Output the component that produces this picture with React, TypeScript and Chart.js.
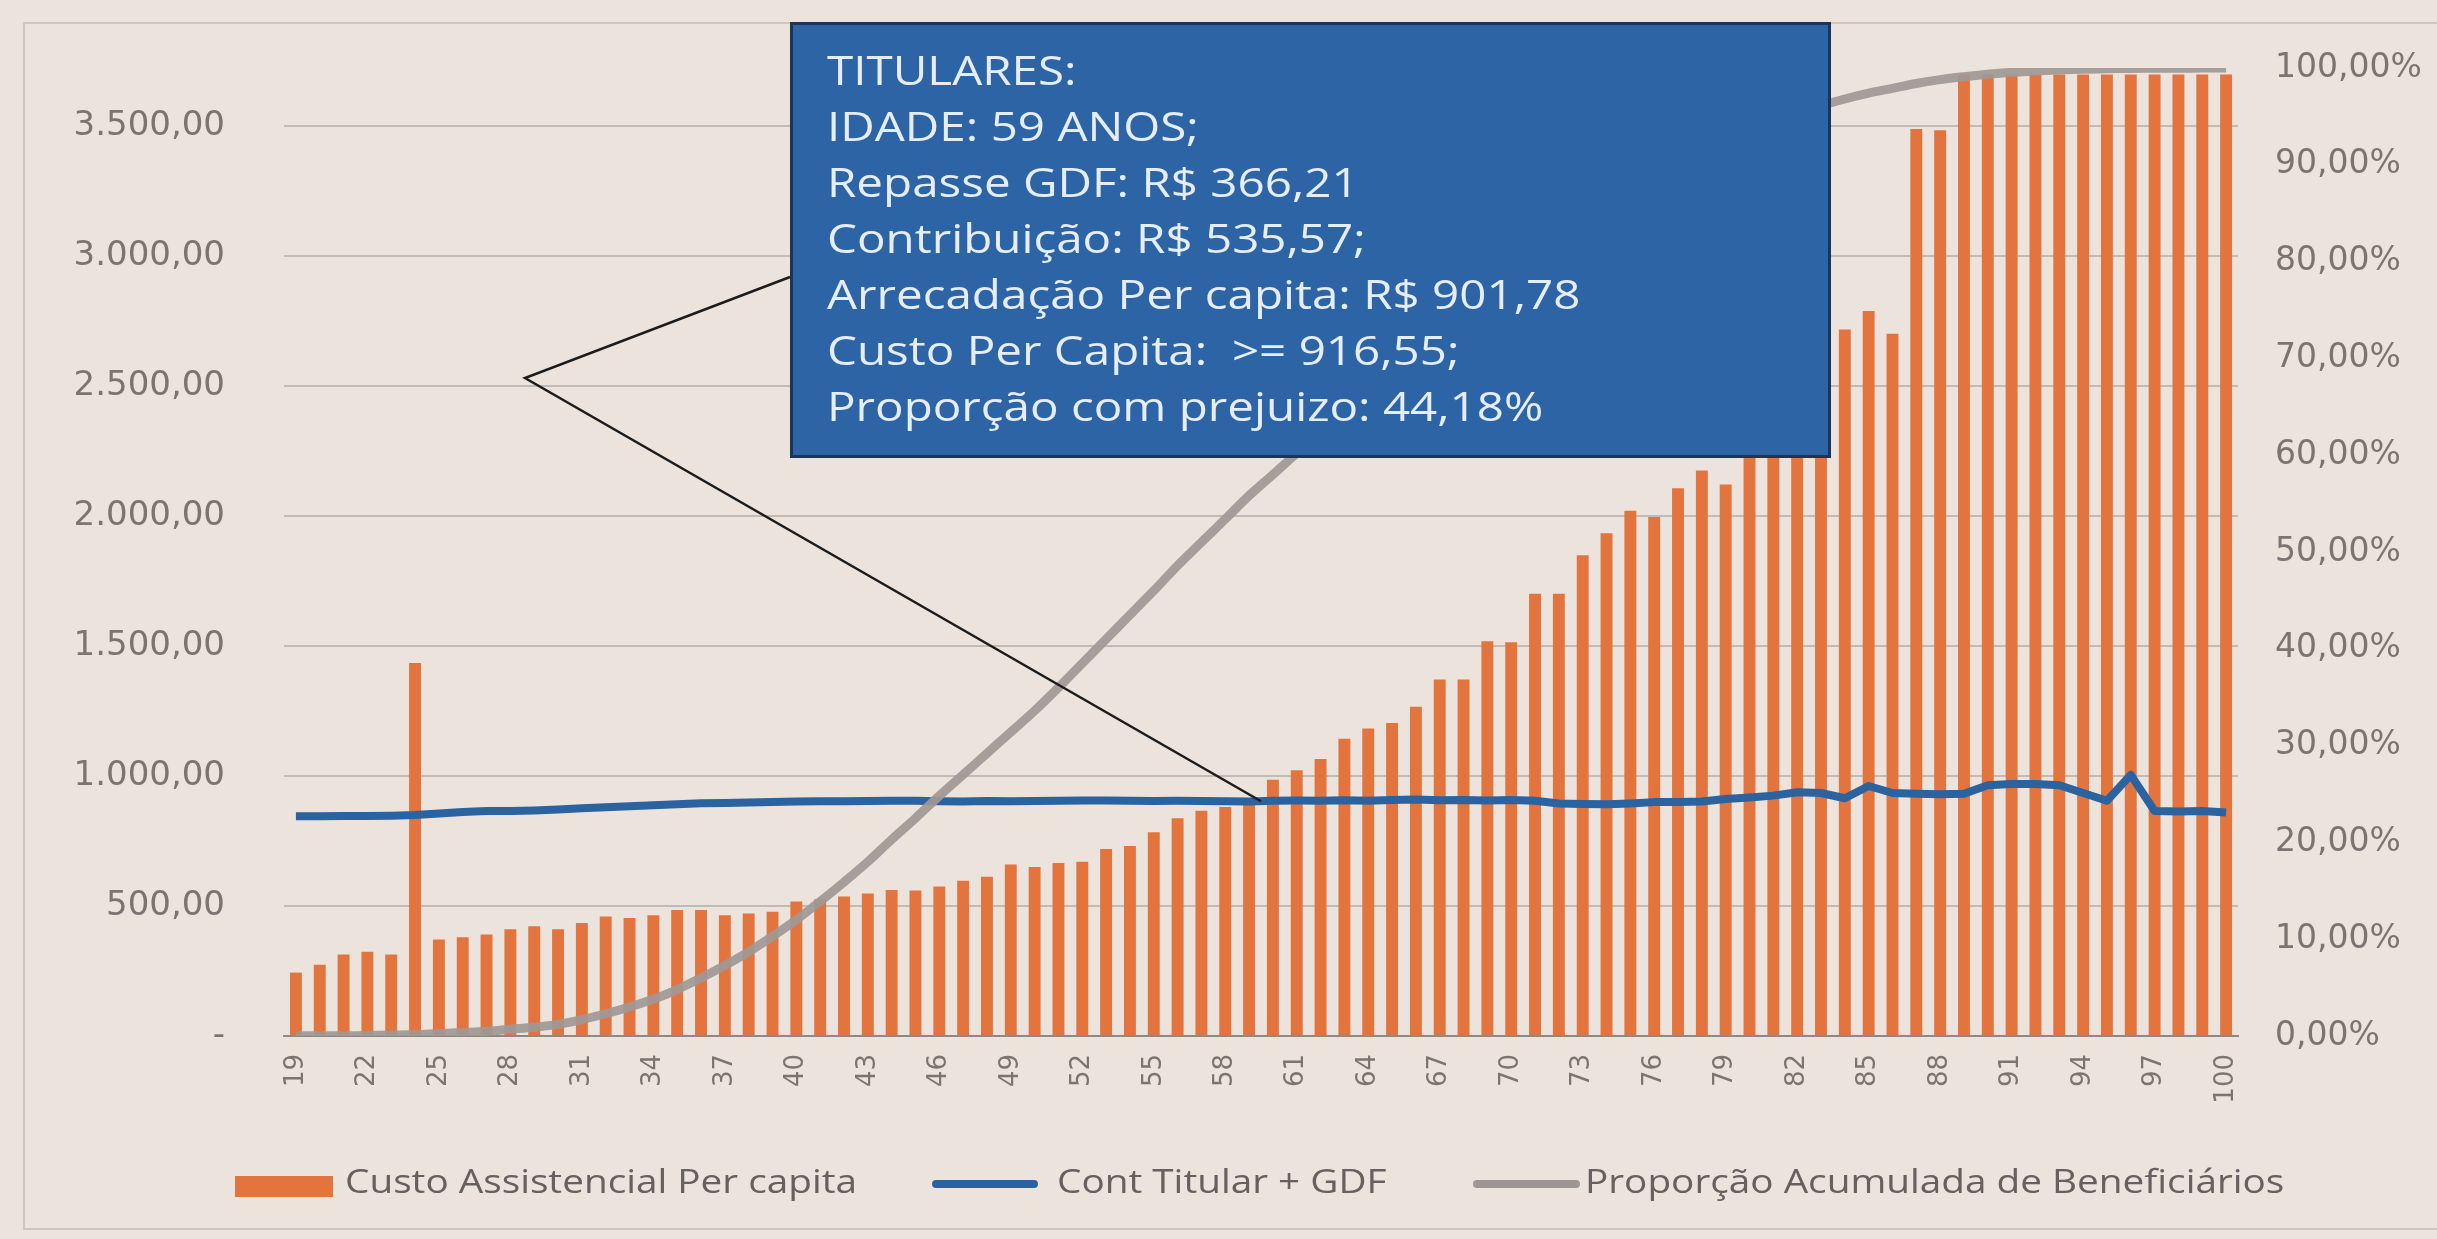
import React, { useEffect, useRef } from "react";
import { Chart, registerables } from "chart.js";

Chart.register(...registerables);

// Categories: age of beneficiaries
const ages: string[] = [
  "19", "20", "21", "22", "23", "24", "25", "26", "27", "28",
  "29", "30", "31", "32", "33", "34", "35", "36", "37", "38",
  "39", "40", "41", "42", "43", "44", "45", "46", "47", "48",
  "49", "50", "51", "52", "53", "54", "55", "56", "57", "58",
  "59", "60", "61", "62", "63", "64", "65", "66", "67", "68",
  "69", "70", "71", "72", "73", "74", "75", "76", "77", "78",
  "79", "80", "81", "82", "83", "84", "85", "86", "87", "88",
  "89", "90", "91", "92", "93", "94", "95", "96", "97", "98",
  "99", "100",
];

// Custo Assistencial Per capita (R$)
const costValues: number[] = [
  244, 274, 314, 324, 314, 1435, 371, 380, 391, 411,
  422, 411, 435, 460, 454, 465, 485, 485, 465, 471,
  478, 518, 526, 537, 548, 562, 560, 575, 597, 613,
  660, 650, 666, 671, 720, 731, 784, 838, 867, 881,
  916, 986, 1023, 1066, 1144, 1183, 1204, 1267, 1372, 1372,
  1519, 1515, 1702, 1702, 1850, 1935, 2021, 1997, 2108, 2176,
  2122, 2290, 2370, 2480, 2620, 2719, 2790, 2702, 3490, 3485,
  3700, 3700, 3700, 3700, 3700, 3700, 3700, 3700, 3700, 3700,
  3700, 3700,
];

// Cont Titular + GDF (R$)
const contValues: number[] = [
  846, 846, 847, 847, 848, 850, 856, 862, 866, 866,
  868, 872, 876, 880, 884, 888, 892, 896, 897, 899,
  900, 902, 903, 903, 904, 905, 905, 903, 902, 904,
  903, 904, 905, 906, 906, 905, 904, 905, 904, 903,
  902, 905, 906, 905, 907, 905, 908, 910, 907, 908,
  906, 908, 905, 895, 893, 892, 895, 900, 900, 902,
  912, 918, 925, 938, 935, 915, 962, 935, 932, 930,
  932, 965, 970, 970, 965, 935, 905, 1005, 866, 864,
  866, 860,
];

// Proporção Acumulada de Beneficiários (%)
const propValues: number[] = [
  0.01, 0.02, 0.03, 0.05, 0.1, 0.15, 0.25, 0.35, 0.5, 0.7,
  0.9, 1.2, 1.7, 2.3, 3.0, 3.8, 4.8, 6.0, 7.3, 8.7,
  10.3, 12.0, 13.9, 15.9, 18.0, 20.3, 22.5, 24.8, 27.0, 29.2,
  31.4, 33.6, 36.0, 38.5, 41.0, 43.5, 46.0, 48.6, 51.0, 53.4,
  55.82, 58.0, 60.2, 62.4, 64.6, 66.8, 69.0, 71.1, 73.2, 75.2,
  77.2, 79.1, 81.0, 82.8, 84.5, 86.1, 87.6, 89.0, 90.3, 91.5,
  92.6, 93.6, 94.5, 95.3, 96.1, 96.8, 97.4, 97.9, 98.4, 98.8,
  99.1, 99.35, 99.55, 99.7, 99.8, 99.87, 99.92, 99.95, 99.97, 99.98,
  99.99, 100,
];

const leftTicks: number[] = [0, 500, 1000, 1500, 2000, 2500, 3000, 3500];
const leftMax = 3725;

const calloutLines: string[] = [
  "TITULARES:",
  "IDADE: 59 ANOS;",
  "Repasse GDF: R$ 366,21",
  "Contribuição: R$ 535,57;",
  "Arrecadação Per capita: R$ 901,78",
  "Custo Per Capita:  >= 916,55;",
  "Proporção com prejuizo: 44,18%",
];
const calloutAge = "59";

const legendLabels: string[] = [
  "Custo Assistencial Per capita",
  "Cont Titular + GDF",
  "Proporção Acumulada de Beneficiários",
];

const BG = "#ece3dc";
const ORANGE = "#e3743e";
const BLUE = "#2b62a0";
const GRAY = "rgba(158,152,149,0.92)";
const TEXT = "#7b7471";

function fmtBR(v: number): string {
  if (v === 0) return "-";
  const fixed = v.toFixed(2);
  const [int, dec] = fixed.split(".");
  const withDots = int.replace(/\B(?=(\d{3})+(?!\d))/g, ".");
  return withDots + "," + dec;
}

const BOX = { left: 790, top: 22, width: 1041, height: 436 };

const calloutPlugin = {
  id: "calloutLines",
  afterDatasetsDraw(chart: any) {
    const { ctx, scales } = chart;
    const x = scales.x;
    const y = scales.y;
    const i = ages.indexOf(calloutAge);
    const tx = (x.getPixelForValue(i) + x.getPixelForValue(i + 1)) / 2;
    const ty = y.getPixelForValue((contValues[i] + contValues[i + 1]) / 2);
    const startX = BOX.left;
    const startY = BOX.top + 255;
    const kinkX = 525;
    const kinkY = 378;
    ctx.save();
    ctx.strokeStyle = "#1c1c1c";
    ctx.lineWidth = 2.5;
    ctx.beginPath();
    ctx.moveTo(startX, startY);
    ctx.lineTo(kinkX, kinkY);
    ctx.lineTo(tx, ty);
    ctx.stroke();
    ctx.restore();
  },
};

export default function App() {
  const canvasRef = useRef<HTMLCanvasElement | null>(null);

  useEffect(() => {
    const canvas = canvasRef.current;
    if (!canvas) return;
    const chart = new Chart(canvas, {
      type: "bar",
      data: {
        labels: ages,
        datasets: [
          {
            type: "line",
            label: legendLabels[2],
            data: propValues,
            yAxisID: "y1",
            borderColor: GRAY,
            borderWidth: 9,
            pointRadius: 0,
            tension: 0.35,
            order: 1,
          } as any,
          {
            type: "line",
            label: legendLabels[1],
            data: contValues,
            yAxisID: "y",
            borderColor: BLUE,
            borderWidth: 8,
            pointRadius: 0,
            tension: 0,
            borderJoinStyle: "round",
            order: 2,
          } as any,
          {
            type: "bar",
            label: legendLabels[0],
            data: costValues,
            yAxisID: "y",
            backgroundColor: ORANGE,
            barPercentage: 0.5,
            categoryPercentage: 1,
            order: 3,
          } as any,
        ],
      },
      options: {
        responsive: false,
        animation: false,
        maintainAspectRatio: false,
        layout: { padding: { top: 68, left: 0, right: 0, bottom: 0 } },
        plugins: {
          legend: { display: false },
          tooltip: { enabled: false },
        },
        scales: {
          x: {
            grid: { display: false, drawTicks: false },
            border: { display: true, color: "#8e8986", width: 2 },
            ticks: {
              autoSkip: false,
              minRotation: 90,
              maxRotation: 90,
              padding: 18,
              color: TEXT,
              font: { family: "'DejaVu Sans'", size: 26 },
              callback: (_v: any, i: number) => (i % 3 === 0 ? ages[i] : null),
            },
            afterFit: (s: any) => {
              s.height = 203;
              s.paddingLeft = 0;
              s.paddingRight = 0;
            },
          },
          y: {
            position: "left",
            min: 0,
            max: leftMax,
            afterBuildTicks: (s: any) => {
              s.ticks = leftTicks.map((v) => ({ value: v }));
            },
            grid: { color: "rgba(176,168,164,0.7)", lineWidth: 2, drawTicks: false },
            border: { display: false },
            ticks: {
              padding: 59,
              color: TEXT,
              font: { family: "'DejaVu Sans'", size: 34 },
              callback: (v: any) => fmtBR(Number(v)),
            },
            afterFit: (s: any) => {
              s.width = 284;
              s.paddingTop = 0;
              s.paddingBottom = 0;
            },
          },
          y1: {
            position: "right",
            min: 0,
            max: 100,
            grid: { display: false, drawTicks: false },
            border: { display: false },
            ticks: {
              stepSize: 10,
              padding: 37,
              color: TEXT,
              font: { family: "'DejaVu Sans'", size: 33 },
              callback: (v: any) => Number(v).toFixed(2).replace(".", ",") + "%",
            },
            afterFit: (s: any) => {
              s.width = 199;
              s.paddingTop = 0;
              s.paddingBottom = 0;
            },
          },
        },
      },
      plugins: [calloutPlugin],
    } as any);
    return () => chart.destroy();
  }, []);

  const legendText: React.CSSProperties = {
    position: "absolute",
    top: 1162,
    fontFamily: "'Open Sans', sans-serif",
    fontSize: 32,
    color: "#676060",
    whiteSpace: "nowrap",
    lineHeight: "38px",
    transform: "scaleX(1.21)",
    transformOrigin: "0 50%",
  };

  return (
    <div
      style={{
        position: "fixed",
        left: 0,
        top: 0,
        width: 2437,
        height: 1239,
        background: BG,
        overflow: "hidden",
      }}
    >
      <div
        style={{
          position: "absolute",
          left: 23,
          top: 22,
          width: 2440,
          height: 1208,
          border: "2px solid #cfc6c0",
          boxSizing: "border-box",
        }}
      />
      <canvas
        ref={canvasRef}
        width={2437}
        height={1239}
        style={{ position: "absolute", left: 0, top: 0, display: "block" }}
      />
      <div
        style={{
          position: "absolute",
          left: BOX.left,
          top: BOX.top,
          width: BOX.width,
          height: BOX.height,
          boxSizing: "border-box",
          background: "#2c64a5",
          border: "3px solid #1a3558",
          color: "#e6edf6",
          fontFamily: "'Open Sans', sans-serif",
          fontSize: 41,
          lineHeight: "56px",
          padding: "16px 0 0 34px",
          whiteSpace: "pre",
        }}
      >
        {calloutLines.map((l, i) => (
          <div key={i} style={{ transform: "scaleX(1.16)", transformOrigin: "0 50%" }}>
            {l}
          </div>
        ))}
      </div>
      {/* Legend */}
      <div style={{ position: "absolute", left: 235, top: 1176, width: 98, height: 21, background: ORANGE }} />
      <div style={{ ...legendText, left: 345 }}>{legendLabels[0]}</div>
      <div
        style={{ position: "absolute", left: 932, top: 1180, width: 106, height: 8, borderRadius: 4, background: BLUE }}
      />
      <div style={{ ...legendText, left: 1057 }}>{legendLabels[1]}</div>
      <div
        style={{ position: "absolute", left: 1473, top: 1180, width: 107, height: 8, borderRadius: 4, background: "#9c9694" }}
      />
      <div style={{ ...legendText, left: 1585 }}>{legendLabels[2]}</div>
    </div>
  );
}
